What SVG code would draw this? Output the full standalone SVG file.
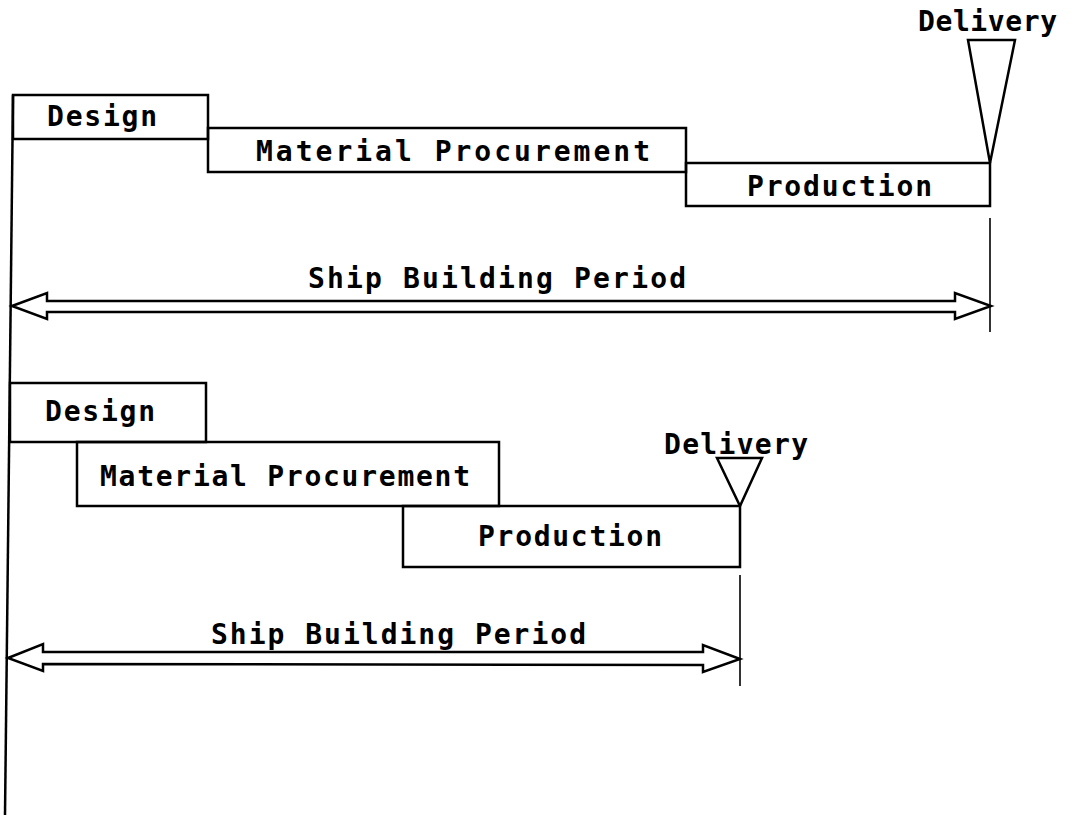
<svg xmlns="http://www.w3.org/2000/svg" width="1075" height="815" viewBox="0 0 1075 815">
<style>
.box{fill:none;stroke:#000;stroke-width:2.5}
.ln{fill:none;stroke:#000;stroke-width:2.5}
.thin{fill:none;stroke:#000;stroke-width:1.6}
.t{font-family:"DejaVu Sans Mono","Liberation Mono",monospace;font-weight:bold;font-size:28px;fill:#000}
</style>
<rect width="1075" height="815" fill="#fff"/>
<g id="connectors">
<line class="ln" x1="13" y1="95" x2="5" y2="815"/>
<line class="thin" x1="990" y1="218" x2="990" y2="332"/>
<line class="thin" x1="740" y1="575" x2="740" y2="686"/>
<polygon class="ln" points="12,306 47,293 47,301 955,301 955,293 991,306 955,319 955,312 47,312 47,319"/>
<polygon class="ln" points="8,658 43,644 43,652 703,652 703,645 740,659 703,672 703,665 43,664 43,671"/>
<text class="t" x="308" y="288" textLength="378" lengthAdjust="spacing">Ship Building Period</text>
<text class="t" x="211" y="644" textLength="375" lengthAdjust="spacing">Ship Building Period</text>
</g>
<g id="top-design">
<rect class="box" x="13" y="95" width="195" height="44"/>
<text class="t" x="47" y="126" textLength="110" lengthAdjust="spacing">Design</text>
</g>
<g id="top-material">
<rect class="box" x="208" y="128" width="478" height="44"/>
<text class="t" x="256" y="161" textLength="394" lengthAdjust="spacing">Material Procurement</text>
</g>
<g id="top-production">
<rect class="box" x="686" y="163" width="304" height="43"/>
<text class="t" x="747" y="196" textLength="185" lengthAdjust="spacing">Production</text>
</g>
<g id="top-delivery">
<polygon class="ln" points="968,40 1015,40 990,163"/>
<text class="t" x="918" y="31" textLength="139" lengthAdjust="spacing">Delivery</text>
</g>
<g id="bottom-design">
<rect class="box" x="10" y="383" width="196" height="59"/>
<text class="t" x="45" y="421" textLength="110" lengthAdjust="spacing">Design</text>
</g>
<g id="bottom-material">
<rect class="box" x="77" y="442" width="422" height="64"/>
<text class="t" x="100" y="486" textLength="370" lengthAdjust="spacing">Material Procurement</text>
</g>
<g id="bottom-production">
<rect class="box" x="403" y="506" width="337" height="61"/>
<text class="t" x="478" y="546" textLength="184" lengthAdjust="spacing">Production</text>
</g>
<g id="bottom-delivery">
<polygon class="ln" points="717,458 762,458 740,506"/>
<text class="t" x="664" y="454" textLength="144" lengthAdjust="spacing">Delivery</text>
</g>
</svg>
